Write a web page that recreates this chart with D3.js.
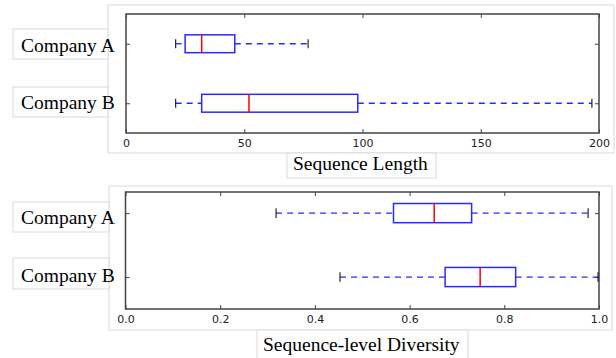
<!DOCTYPE html>
<html>
<head>
<meta charset="utf-8">
<script src="https://cdn.jsdelivr.net/npm/d3@7"></script>
<style>
  body { margin: 0; background: #fff; }
  .tick text { font-family: "DejaVu Sans", sans-serif; font-size: 11px; fill: #222; }
  .label { font-family: "Liberation Serif", "Times New Roman", serif; font-size: 19.5px; fill: #000; }
</style>
</head>
<body>
<div id="chart"></div>
<script>
// Box plot data
const companies = ['Company A', 'Company B']

// sequence length
const lengthLow = [21, 21]
const lengthQ1 = [25, 32]
const lengthMedian = [32, 52]
const lengthQ3 = [46, 98]
const lengthHigh = [77, 197]
const lengthTicks = [0, 50, 100, 150, 200]

// sequence-level diversity
const divLow = [0.318, 0.453]
const divQ1 = [0.566, 0.675]
const divMedian = [0.652, 0.749]
const divQ3 = [0.731, 0.824]
const divHigh = [0.977, 0.998]
const divTicks = [0, 0.2, 0.4, 0.6, 0.8, 1.0]

const width = 616
const height = 358

const svg = d3.select('#chart')
  .append('svg')
  .attr('width', width)
  .attr('height', height)

const grey = '#d9d9d9'
const boxBlue = '#2a2aff'

// draws one panel: light frame, label boxes, axes and boxes
function panel(opt) {
  const g = svg.append('g')

  // light outer box of the pasted screenshot
  g.append('rect')
    .attr('x', opt.outer[0]).attr('y', opt.outer[1])
    .attr('width', opt.outer[2]).attr('height', opt.outer[3])
    .attr('fill', '#fff').attr('stroke', grey)

  const x = d3.scaleLinear().domain(opt.domain).range([opt.left, opt.right])
  const y = d3.scaleLinear().domain(opt.ydomain).range([opt.top, opt.bottom])
  const half = (y(1.15) - y(1))

  // axes, ticks pointing inward
  g.append('g')
    .attr('class', 'axis')
    .attr('transform', `translate(0, ${opt.bottom})`)
    .call(d3.axisBottom(x).tickValues(opt.ticks).tickFormat(opt.format)
      .tickSizeInner(-4).tickSizeOuter(0).tickPadding(6))
  g.append('g')
    .attr('transform', `translate(0, ${opt.top})`)
    .call(d3.axisTop(x).tickValues(opt.ticks).tickFormat('')
      .tickSizeInner(-4).tickSizeOuter(0))
  g.append('g')
    .attr('transform', `translate(${opt.left}, 0)`)
    .call(d3.axisLeft(y).tickValues([1, 2]).tickFormat('')
      .tickSizeInner(-4).tickSizeOuter(0))
  g.append('g')
    .attr('transform', `translate(${opt.right}, 0)`)
    .call(d3.axisRight(y).tickValues([1, 2]).tickFormat('')
      .tickSizeInner(-4).tickSizeOuter(0))
  g.selectAll('.domain').remove()
  g.selectAll('.tick line').attr('stroke', '#444')

  // plot frame
  g.append('rect')
    .attr('x', opt.left).attr('y', opt.top)
    .attr('width', opt.right - opt.left).attr('height', opt.bottom - opt.top)
    .attr('fill', 'none').attr('stroke', '#444').attr('stroke-width', 1.5)

  const rows = companies.map((c, i) => ({
    pos: i + 1, low: opt.low[i], q1: opt.q1[i], med: opt.med[i], q3: opt.q3[i], high: opt.high[i]
  }))

  const box = g.selectAll('.box').data(rows).enter().append('g')

  // dashed whiskers
  box.append('line')
    .attr('x1', d => x(d.low)).attr('x2', d => x(d.q1))
    .attr('y1', d => y(d.pos)).attr('y2', d => y(d.pos))
    .attr('stroke', boxBlue).attr('stroke-width', 1.3).attr('stroke-dasharray', '6,5')
  box.append('line')
    .attr('x1', d => x(d.q3)).attr('x2', d => x(d.high))
    .attr('y1', d => y(d.pos)).attr('y2', d => y(d.pos))
    .attr('stroke', boxBlue).attr('stroke-width', 1.3).attr('stroke-dasharray', '6,5')

  // caps
  ;['low', 'high'].forEach(k => {
    box.append('line')
      .attr('x1', d => x(d[k])).attr('x2', d => x(d[k]))
      .attr('y1', d => y(d.pos) - half / 2).attr('y2', d => y(d.pos) + half / 2)
      .attr('stroke', '#111').attr('stroke-width', 1.1)
  })

  box.append('rect')
    .attr('x', d => x(d.q1)).attr('width', d => x(d.q3) - x(d.q1))
    .attr('y', d => y(d.pos) - half).attr('height', half * 2)
    .attr('fill', '#fff').attr('stroke', boxBlue).attr('stroke-width', 1.5)

  box.append('line')
    .attr('x1', d => x(d.med)).attr('x2', d => x(d.med))
    .attr('y1', d => y(d.pos) - half).attr('y2', d => y(d.pos) + half)
    .attr('stroke', 'red').attr('stroke-width', 1.5)

  // company label boxes
  opt.labelBoxes.forEach((b, i) => {
    g.append('rect')
      .attr('x', 13).attr('y', b[0]).attr('width', opt.outer[0] - 13).attr('height', b[1] - b[0])
      .attr('fill', '#fff').attr('stroke', grey)
    g.append('text')
      .attr('class', 'label')
      .attr('x', 21).attr('y', b[2])
      .text(companies[i])
  })

  // x label box
  const xb = opt.xlabelBox
  g.append('rect')
    .attr('x', xb[0]).attr('y', xb[1]).attr('width', xb[2]).attr('height', xb[3])
    .attr('fill', '#fff').attr('stroke', grey)
  g.append('text')
    .attr('class', 'label')
    .attr('x', xb[4]).attr('y', xb[5])
    .text(opt.xlabel)
}

panel({
  outer: [108, 5, 506, 148],
  left: 126, right: 599, top: 14, bottom: 133,
  domain: [0, 200], ydomain: [0.5, 2.5],
  ticks: lengthTicks, format: d3.format('d'),
  low: lengthLow, q1: lengthQ1, med: lengthMedian, q3: lengthQ3, high: lengthHigh,
  labelBoxes: [[29, 59, 52], [87, 117, 109]],
  xlabelBox: [287, 153, 149, 25, 293, 170],
  xlabel: 'Sequence Length'
})

panel({
  outer: [109, 186, 503, 144],
  left: 125.5, right: 599, top: 192, bottom: 309,
  domain: [0, 1], ydomain: [0.67, 2.5],
  ticks: divTicks, format: d3.format('.1f'),
  low: divLow, q1: divQ1, med: divMedian, q3: divQ3, high: divHigh,
  labelBoxes: [[202, 232, 224], [258, 289, 282]],
  xlabelBox: [257, 330, 211, 30, 263, 351],
  xlabel: 'Sequence-level Diversity'
})
</script>
</body>
</html>
